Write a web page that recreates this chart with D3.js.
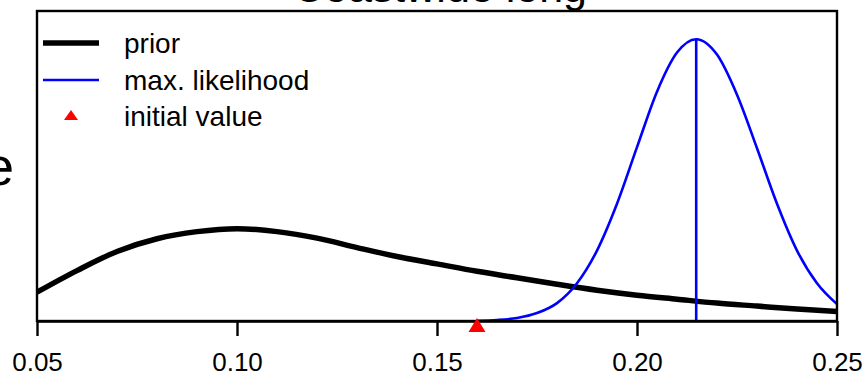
<!DOCTYPE html>
<html><head><meta charset="utf-8">
<script src="https://cdn.jsdelivr.net/npm/d3@7"></script>
<style>
body{margin:0;background:#fff}
svg{display:block;font-family:"Liberation Sans",Arial,sans-serif}
</style>
</head><body><svg id="c" width="865" height="379"></svg>
<script>
// ---- data ----
const titleText = "Coastwide long";
const yLabelText = "e";
const priorX = [0.05,0.06,0.07,0.08,0.09,0.10,0.11,0.12,0.13,0.14,0.15,0.16,0.17,0.18,0.19,0.20,0.21,0.22,0.23,0.24,0.25];
const priorY = [2.80,4.90,6.76,8.00,8.69,8.98,8.69,8.06,7.14,6.27,5.55,4.83,4.20,3.57,2.99,2.51,2.12,1.74,1.45,1.16,0.92];
const mleX = [0.160,0.165,0.170,0.175,0.180,0.185,0.190,0.195,0.200,0.205,0.210,0.2148,0.220,0.225,0.230,0.235,0.240,0.245,0.250];
const mleY = [0.03,0.10,0.29,0.77,1.74,3.67,6.85,11.4,16.9,22.3,26.1,27.4,25.9,22.0,16.8,11.4,6.85,3.67,1.64];
const mleValue = 0.2148;
const initialValue = 0.16;
const xDomain = [0.05, 0.25];
const xTicks = [0.05, 0.10, 0.15, 0.20, 0.25];
const xTickLabels = ["0.05","0.10","0.15","0.20","0.25"];
const legendLabels = ["prior","max. likelihood","initial value"];

// ---- layout ----
const W = 865, H = 379;
const m = {left: 37, right: 28, top: 11, bottom: 58};
const svg = d3.select("#c");
const x = d3.scaleLinear().domain(xDomain).range([m.left, W - m.right]);
const yMax = 1.1 * d3.max(mleY);
const y = d3.scaleLinear().domain([0, yMax]).range([H - m.bottom, m.top]);

svg.append("defs").append("clipPath").attr("id","pc")
  .append("rect").attr("x", m.left).attr("y", m.top)
  .attr("width", W - m.left - m.right).attr("height", H - m.top - m.bottom);

// title (partly cut off at top, as in the reference)
svg.append("text").attr("x", 440).attr("y", 2).attr("text-anchor","middle")
  .attr("font-size", 43).attr("fill","#000").text(titleText);

// y label remnant (cut off at left, as in the reference)
svg.append("text").attr("x", 14).attr("y", 185).attr("text-anchor","end")
  .attr("font-size", 54).attr("fill","#000").text(yLabelText);

const plot = svg.append("g").attr("clip-path","url(#pc)");

// prior
plot.append("path")
  .datum(priorX.map((v,i)=>[v, priorY[i]]))
  .attr("d", d3.line().x(d=>x(d[0])).y(d=>y(d[1])).curve(d3.curveCatmullRom.alpha(0.5)))
  .attr("fill","none").attr("stroke","#000").attr("stroke-width",5.5).attr("stroke-linejoin","round");

// max likelihood
plot.append("path")
  .datum(mleX.map((v,i)=>[v, mleY[i]]))
  .attr("d", d3.line().x(d=>x(d[0])).y(d=>y(d[1])).curve(d3.curveMonotoneX))
  .attr("fill","none").attr("stroke","#0000ff").attr("stroke-width",2.6);

plot.append("line")
  .attr("x1", x(mleValue)).attr("x2", x(mleValue))
  .attr("y1", y(0)).attr("y2", y(d3.max(mleY)))
  .attr("stroke","#0000ff").attr("stroke-width",2.6);

// box
svg.append("rect").attr("x", m.left).attr("y", m.top)
  .attr("width", W - m.left - m.right).attr("height", H - m.top - m.bottom)
  .attr("fill","none").attr("stroke","#000").attr("stroke-width",2.4);

// x axis
const ax = svg.append("g").attr("transform", `translate(0,${y(0)})`)
  .call(d3.axisBottom(x).tickValues(xTicks).tickFormat((d,i)=>xTickLabels[i]).tickSizeOuter(0).tickSizeInner(15).tickPadding(17));
ax.select(".domain").attr("stroke","#000").attr("stroke-width",2.4);
ax.selectAll(".tick line").attr("stroke","#000").attr("stroke-width",2.4);
ax.selectAll(".tick text").attr("font-size",26).attr("fill","#000")
  .attr("font-family",'"Liberation Sans",Arial,sans-serif');

// initial value marker
const tri = (cx, top, bottom, hw) => `M${cx},${top}L${cx+hw},${bottom}L${cx-hw},${bottom}Z`;
svg.append("path").attr("d", tri(x(initialValue), y(0)-3, y(0)+11, 8.5)).attr("fill","#ff0000");

// legend
const lg = svg.append("g");
const rows = [43, 80, 116];
lg.append("line").attr("x1",43).attr("x2",99).attr("y1",rows[0]).attr("y2",rows[0])
  .attr("stroke","#000").attr("stroke-width",5.5);
lg.append("line").attr("x1",43).attr("x2",99).attr("y1",rows[1]).attr("y2",rows[1])
  .attr("stroke","#0000ff").attr("stroke-width",2.6);
lg.append("path").attr("d", tri(71, rows[2]-6, rows[2]+4, 7)).attr("fill","#ff0000");
legendLabels.forEach((t,i)=>{
  lg.append("text").attr("x",124).attr("y",rows[i]+10).attr("font-size",28).attr("fill","#000").text(t);
});
</script>
</body></html>
